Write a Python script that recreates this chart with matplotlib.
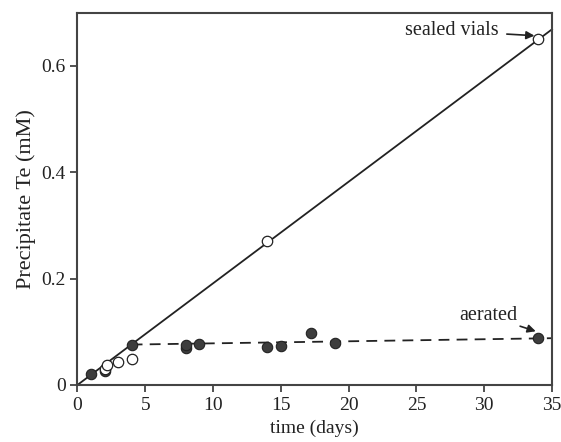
import matplotlib
matplotlib.use("Agg")
import matplotlib.pyplot as plt
import numpy as np

plt.rcParams['font.family'] = ['Liberation Serif', 'DejaVu Serif']

# sealed vials (open circles)
sealed_t = [2, 2.2, 3, 4, 14, 34]
sealed_te = [0.030, 0.038, 0.043, 0.049, 0.270, 0.650]
# aerated (filled circles)
aer_t = [1, 2, 4, 8, 8, 9, 14, 15, 17.2, 19, 34]
aer_te = [0.021, 0.027, 0.075, 0.070, 0.075, 0.077, 0.072, 0.074, 0.098, 0.079, 0.088]
# fitted lines
sealed_fit_t = [0, 35]
sealed_fit_te = [0.0, 0.669]
aer_fit_t = [4, 35]
aer_fit_te = [0.076, 0.088]

xticks = [0, 5, 10, 15, 20, 25, 30, 35]
yticks = [0, 0.2, 0.4, 0.6]
ytick_labels = ["0", "0.2", "0.4", "0.6"]

fig = plt.figure(figsize=(5.61, 4.42), dpi=100)
ax = fig.add_axes([0.138, 0.129, 0.846, 0.842])

ax.plot(sealed_fit_t, sealed_fit_te, color='#222222', lw=1.3, zorder=2, clip_on=False)
ax.plot(aer_fit_t, aer_fit_te, color='#222222', lw=1.3, ls=(0, (6, 4)), zorder=2)
ax.plot(aer_t, aer_te, 'o', ms=7.5, mfc='#3d3d3d', mec='#222222', mew=0.8, zorder=3, clip_on=False)
ax.plot(sealed_t, sealed_te, 'o', ms=7.5, mfc='white', mec='#222222', mew=0.9, zorder=4, clip_on=False)

ax.set_xlim(0, 35)
ax.set_ylim(0, 0.7)
ax.set_xticks(xticks)
ax.set_yticks(yticks)
ax.set_yticklabels(ytick_labels)
ax.tick_params(axis='both', direction='out', length=5, width=1.2, labelsize=14, colors='#333333', labelcolor='#222222')
for s in ax.spines.values():
    s.set_color('#444444')
    s.set_linewidth(1.5)

ax.set_xlabel('time (days)', fontsize=14, color='#222222', labelpad=4)
ax.set_ylabel('Precipitate Te (mM)', fontsize=16, color='#222222', labelpad=4)

ax.annotate('sealed vials', xy=(33.7, 0.657), xytext=(27.6, 0.666),
            fontsize=14.5, color='#222222', ha='center', va='center',
            arrowprops=dict(arrowstyle='-|>', color='#222222', lw=1.2, shrinkA=4, shrinkB=0,
                            mutation_scale=12))
ax.annotate('aerated', xy=(33.8, 0.101), xytext=(30.3, 0.130),
            fontsize=14.5, color='#222222', ha='center', va='center',
            arrowprops=dict(arrowstyle='-|>', color='#222222', lw=1.2, shrinkA=0, shrinkB=0,
                            mutation_scale=12))

fig.savefig('out.png', dpi=100)
